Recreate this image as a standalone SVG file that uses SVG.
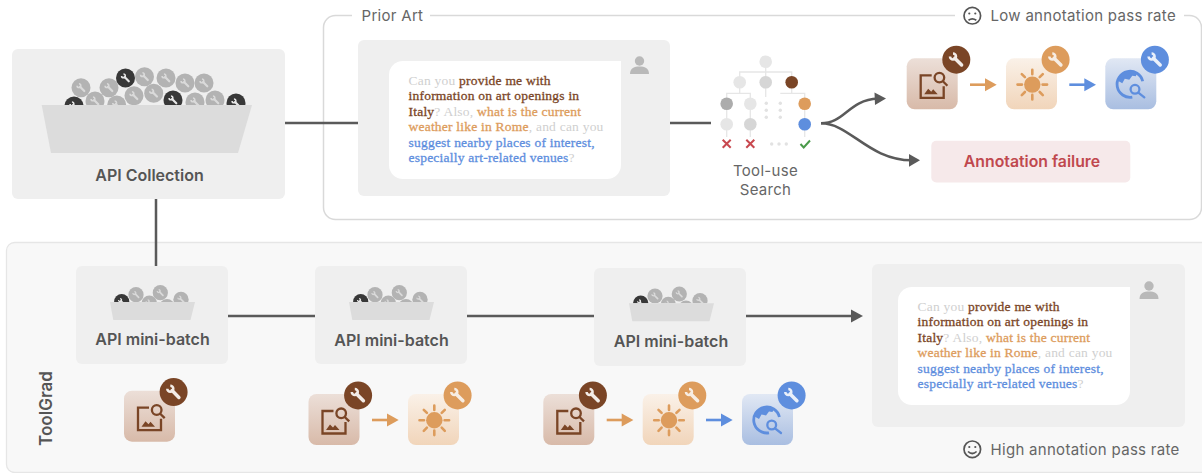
<svg xmlns="http://www.w3.org/2000/svg" width="1202" height="473" viewBox="0 0 1202 473">
<style>
text{font-family:"Inter","Liberation Sans",sans-serif}
.box{fill:#efefef}
.lbl{font-weight:600;fill:#555;text-anchor:middle}
.cap{font-size:15px;fill:#666;letter-spacing:.3px}
.chat{font-family:"Liberation Serif",serif;font-size:13.5px;letter-spacing:.22px}
.g{fill:#cfcfcf}
.b{fill:#7a4526;stroke:#7a4526;stroke-width:.3}
.o{fill:#dd9c5c;stroke:#dd9c5c;stroke-width:.3}
.u{fill:#5e8ede;stroke:#5e8ede;stroke-width:.3}
.c{fill:none;stroke:#5a5a5a;stroke-width:2.5}
.bowl{fill:#dcdcdc}
.t{fill:none;stroke:#e6e6e6;stroke-width:1.3}
.sm{fill:none;stroke:#555;stroke-width:1.7}
</style>
<defs>
<linearGradient id="g1" x1="0" y1="0" x2="0" y2="1"><stop offset="0" stop-color="#ecdfd8"/><stop offset="1" stop-color="#d8baa9"/></linearGradient>
<linearGradient id="g2" x1="0" y1="0" x2="0" y2="1"><stop offset="0" stop-color="#faf1e8"/><stop offset="1" stop-color="#f1d5ba"/></linearGradient>
<linearGradient id="g3" x1="0" y1="0" x2="0" y2="1"><stop offset="0" stop-color="#e1e8f4"/><stop offset="1" stop-color="#a9bee1"/></linearGradient>
<g id="wr" fill="none" stroke-linecap="butt">
<path d="M-3.3 -6.300A3 3 0 1 1 -6.300 -3.300" stroke-width="2.500"/>
<path d="M-1.500 -1.500L5.300 5.300" stroke-width="3.500" stroke-linecap="round"/>
</g>
<g id="ball"><circle r="9.500" fill="#b3b3b3"/><use href="#wr" transform="scale(.62)" stroke="#dadada"/></g>
<g id="dball"><circle r="9.500" fill="#383838"/><use href="#wr" transform="scale(.62)" stroke="#e8e8e8"/></g>
<g id="tile1"><rect width="51" height="51" rx="8" fill="url(#g1)"/>
<g fill="none" stroke="#7a4526" stroke-width="2.300"><path d="M25 17H14V39.500H37V28"/><circle cx="32.700" cy="19.300" r="4.800"/><path d="M36.200 23L40.700 27.400"/></g>
<path d="M17.500 36L21.500 30.500L24.500 33.500L26.500 31L31 36Z" fill="#7a4526"/>
<circle cx="49.600" cy="1.400" r="14" fill="#7a4526"/><use href="#wr" transform="translate(49.600 1.400)" stroke="#f3ece7"/></g>
<g id="tile2"><rect width="51" height="51" rx="8" fill="url(#g2)"/>
<circle cx="26.300" cy="26.300" r="8.200" fill="#dd9c5c"/>
<path d="M26.300 11.500V16M26.300 36.600V41.100M11.500 26.300H16M36.600 26.300H41.100M15.800 15.800L18.900 18.900M33.700 33.700L36.800 36.800M15.800 36.800L18.900 33.700M33.700 18.900L36.800 15.800" fill="none" stroke="#dd9c5c" stroke-width="2.600" stroke-linecap="round"/>
<circle cx="49.600" cy="1.400" r="14" fill="#dd9c5c"/><use href="#wr" transform="translate(49.600 1.400)" stroke="#f7ede3"/></g>
<g id="tile3"><rect width="51" height="51" rx="8" fill="url(#g3)"/>
<path d="M27 38.800A13 13 0 1 1 37.400 23" fill="none" stroke="#5e8ede" stroke-width="2.800"/>
<path d="M12.500 22.500L17 25L19.500 20.500L24 21.500L27 17.500L30.500 18L32 14.500A13 13 0 0 0 12.500 22.500Z" fill="#5e8ede"/>
<circle cx="29.700" cy="31" r="4.400" fill="none" stroke="#5e8ede" stroke-width="2.300"/><path d="M33 34.300L39 39" stroke="#5e8ede" stroke-width="2.300" stroke-linecap="round"/>
<circle cx="49.600" cy="1.400" r="14" fill="#5e8ede"/><use href="#wr" transform="translate(49.600 1.400)" stroke="#eaf0fa"/></g>
<g id="oarr"><path d="M0 0H17" stroke="#dd9c5c" stroke-width="2.600" fill="none"/><path d="M15 -6.500L26.700 0L15 6.500Z" fill="#dd9c5c"/></g>
<g id="barr"><path d="M0 0H17" stroke="#5e8ede" stroke-width="2.600" fill="none"/><path d="M15 -6.500L26.700 0L15 6.500Z" fill="#5e8ede"/></g>
<g id="person" fill="#b9b9b9"><circle cx="0" cy="-4" r="4.700"/><path d="M-9.500 9C-9.500 3 -5 1.500 0 1.500C5 1.500 9.500 3 9.500 9Z"/></g>
<clipPath id="clipBig"><rect x="0" y="40" width="300" height="65"/></clipPath>
<clipPath id="cm"><rect x="-60" y="-30" width="120" height="30"/></clipPath>
<g id="mini">
<g clip-path="url(#cm)">
<use href="#dball" transform="translate(-30.300 -.3) scale(.8)"/>
<use href="#ball" transform="translate(-16 -7.300) scale(.8)"/>
<use href="#ball" transform="translate(-2.700 1) scale(.8)"/>
<use href="#ball" transform="translate(8.300 -9.300) scale(.8)"/>
<use href="#ball" transform="translate(15 4.700) scale(.8)"/>
<use href="#ball" transform="translate(29 -2.700) scale(.8)"/>
</g>
<path class="bowl" d="M-42 0H43L38.500 18H-38.700Z"/>
</g>
<g id="msg">
<rect width="232" height="118" fill="#fff" rx="14"/><rect x="212" width="20" height="20" fill="#fff"/>
<text class="chat" x="19.500" y="23.700"><tspan class="g">Can you </tspan><tspan class="b">provide me with</tspan></text>
<text class="chat" x="19.500" y="39.200"><tspan class="b">information on art openings in</tspan></text>
<text class="chat" x="19.500" y="54.700"><tspan class="b">Italy</tspan><tspan class="g">? Also, </tspan><tspan class="o">what is the current</tspan></text>
<text class="chat" x="19.500" y="70.200"><tspan class="o">weather like in Rome</tspan><tspan class="g">, and can you</tspan></text>
<text class="chat" x="19.500" y="85.700"><tspan class="u">suggest nearby places of interest,</tspan></text>
<text class="chat" x="19.500" y="101.200"><tspan class="u">especially art-related venues</tspan><tspan class="g">?</tspan></text>
</g>
</defs>

<rect id="bg" width="1202" height="473" fill="#fff"/>
<g id="prior-art">
<rect x="323.500" y="15.500" width="878" height="204" rx="12" fill="none" stroke="#d9d9d9" stroke-width="1.500"/>
<rect x="352" y="8" width="78" height="15" fill="#fff"/>
<rect x="955" y="5" width="229" height="20" fill="#fff"/>
<text class="cap" x="361.500" y="20.500">Prior Art</text>
<circle class="sm" cx="972.300" cy="15.700" r="8.300"/>
<circle cx="969.300" cy="13.500" r="1.100" fill="#555"/><circle cx="975.300" cy="13.500" r="1.100" fill="#555"/>
<path class="sm" d="M968.500 20.200Q972.300 17.500 976.300 20.200" stroke-width="1.300"/>
<text class="cap" x="990.500" y="21">Low annotation pass rate</text>
</g>
<g id="toolgrad">
<rect x="6.500" y="242.500" width="1210" height="230" rx="8" fill="#f8f8f8" stroke="#e6e6e6" stroke-width="1.300"/>
<text transform="translate(51.500 408.500) rotate(-90)" text-anchor="middle" font-size="17" font-weight="600" fill="#555">ToolGrad</text>
<circle class="sm" cx="972.300" cy="449.300" r="8.300"/>
<circle cx="969.300" cy="447" r="1.100" fill="#555"/><circle cx="975.300" cy="447" r="1.100" fill="#555"/>
<path class="sm" d="M968 451.500Q972.300 455.500 976.600 451.500" stroke-width="1.300"/>
<text class="cap" x="990.500" y="455">High annotation pass rate</text>
</g>

<g id="connectors">
<path class="c" d="M285 123H358M670 123H711M156 199V267M228 316H315M467 316H594M746 316H854"/>
<path d="M851 309.500L863 316L851 322.500Z" fill="#5a5a5a"/>
<path class="c" d="M821 123.300C845 123.300 848 100 878 98.500"/>
<path d="M874.500 92.500L886 98.500L875 105Z" fill="#5a5a5a"/>
<path class="c" d="M821 123.300C850 123.300 868 160 912 160.300"/>
<path d="M909 154L920 160.300L909 166.800Z" fill="#5a5a5a"/>
</g>

<g id="api-collection">
<rect class="box" x="12" y="49" width="273" height="150" rx="6"/>
<g clip-path="url(#clipBig)">
<use href="#ball" x="81" y="87.700"/><use href="#ball" x="109" y="87.700"/>
<use href="#ball" x="144.500" y="76.700"/><use href="#ball" x="166" y="78"/><use href="#ball" x="185" y="83"/><use href="#ball" x="204" y="83"/>
<use href="#dball" x="74" y="106"/><use href="#ball" x="95" y="101"/><use href="#ball" x="116.700" y="105"/><use href="#ball" x="134" y="95.700"/><use href="#ball" x="153.700" y="93.300"/>
<use href="#ball" x="195" y="102"/><use href="#ball" x="215" y="100"/><use href="#dball" x="173" y="100"/><use href="#dball" x="236" y="103"/>
<use href="#dball" x="125.500" y="78"/>
</g>
<path class="bowl" d="M41.700 105H252L238 153H51Z"/>
<text class="lbl" x="149.500" y="181" font-size="16">API Collection</text>
</g>

<g id="prior-chat">
<rect class="box" x="358" y="40" width="312" height="156" rx="6"/>
<use href="#msg" x="389" y="61"/>
<use href="#person" x="639.500" y="65"/>
</g>

<g id="tool-search">
<path class="t" d="M765.700 62V82M739.700 82V72H791.700V82M739.700 82V93.300M726.700 104V93.300H750.300V104M791.700 82V93.300H780.300M791.700 93.300H804.700V104M765.700 82V97M726.700 104V143M750.300 104V143M804.700 104V143"/>
<circle cx="765.700" cy="61.700" r="6.300" fill="#e6e6e6"/>
<circle cx="739.700" cy="82.300" r="6.300" fill="#e6e6e6"/>
<circle cx="765.700" cy="82.300" r="6.300" fill="#d6d6d6"/>
<circle cx="791.700" cy="82.300" r="6.300" fill="#7a4526"/>
<circle cx="726.700" cy="103.700" r="6.300" fill="#acacac"/>
<circle cx="750.300" cy="103.700" r="6.300" fill="#e6e6e6"/>
<circle cx="804.700" cy="103.700" r="6.300" fill="#dd9c5c"/>
<circle cx="726.700" cy="124.300" r="6.300" fill="#e6e6e6"/>
<circle cx="750.300" cy="124.300" r="6.300" fill="#d6d6d6"/>
<circle cx="804.700" cy="124.300" r="6.300" fill="#5e8ede"/>
<g fill="#e2e2e2"><circle cx="766.300" cy="103.300" r="1.700"/><circle cx="766.300" cy="110.300" r="1.700"/><circle cx="766.300" cy="117.300" r="1.700"/><circle cx="780.300" cy="103.300" r="1.700"/><circle cx="780.300" cy="110.300" r="1.700"/><circle cx="780.300" cy="117.300" r="1.700"/><circle cx="771.700" cy="144" r="1.700"/><circle cx="779" cy="144" r="1.700"/><circle cx="786.300" cy="144" r="1.700"/></g>
<rect x="720" y="137" width="14" height="13" fill="#fff"/><rect x="744" y="137" width="14" height="13" fill="#fff"/><rect x="798" y="137" width="14" height="13" fill="#fff"/>
<path d="M722.700 139.700L730.700 147.700M730.700 139.700L722.700 147.700M746.300 139.700L754.300 147.700M754.300 139.700L746.300 147.700" stroke="#c8484f" stroke-width="2" fill="none"/>
<path d="M800.500 144L803.700 147.500L810 140.500" stroke="#4a9a4a" stroke-width="2" fill="none"/>
<text x="765.500" y="176" text-anchor="middle" class="cap">Tool-use</text>
<text x="765.500" y="195" text-anchor="middle" class="cap">Search</text>
</g>

<g id="low-pass-chain">
<use href="#tile1" x="906.700" y="58.300"/><use href="#oarr" x="970" y="84.700"/>
<use href="#tile2" x="1006" y="58.300"/><use href="#barr" x="1069.300" y="84.700"/>
<use href="#tile3" x="1105.300" y="58.300"/>
</g>
<g id="annotation-failure">
<rect x="931.300" y="140.700" width="199" height="41.800" rx="5" fill="#f6e9ea"/>
<text x="1032" y="167" text-anchor="middle" font-size="15.800" font-weight="600" fill="#c0484e">Annotation failure</text>
</g>

<g id="batch-1">
<rect class="box" x="76" y="266" width="152" height="98" rx="6"/>
<use href="#mini" x="152" y="302"/>
<text class="lbl" x="152.500" y="345" font-size="16">API mini-batch</text>
<use href="#tile1" x="124" y="390.700"/>
</g>
<g id="batch-2">
<rect class="box" x="315" y="266" width="152" height="98" rx="6"/>
<use href="#mini" x="391" y="302"/>
<text class="lbl" x="391.500" y="346" font-size="16">API mini-batch</text>
<use href="#tile1" x="308.500" y="394"/><use href="#oarr" x="372" y="420"/><use href="#tile2" x="408" y="394"/>
</g>
<g id="batch-3">
<rect class="box" x="594" y="268" width="152" height="98" rx="6"/>
<use href="#mini" x="671" y="303.300"/>
<text class="lbl" x="671" y="347" font-size="16">API mini-batch</text>
<use href="#tile1" x="543.300" y="394"/><use href="#oarr" x="606.700" y="420"/><use href="#tile2" x="642.700" y="394"/><use href="#barr" x="706" y="420"/><use href="#tile3" x="742" y="394"/>
</g>
<g id="toolgrad-chat">
<rect class="box" x="872" y="264" width="313" height="163" rx="6"/>
<use href="#msg" x="898" y="287"/>
<use href="#person" x="1149" y="290"/>
</g>
</svg>
